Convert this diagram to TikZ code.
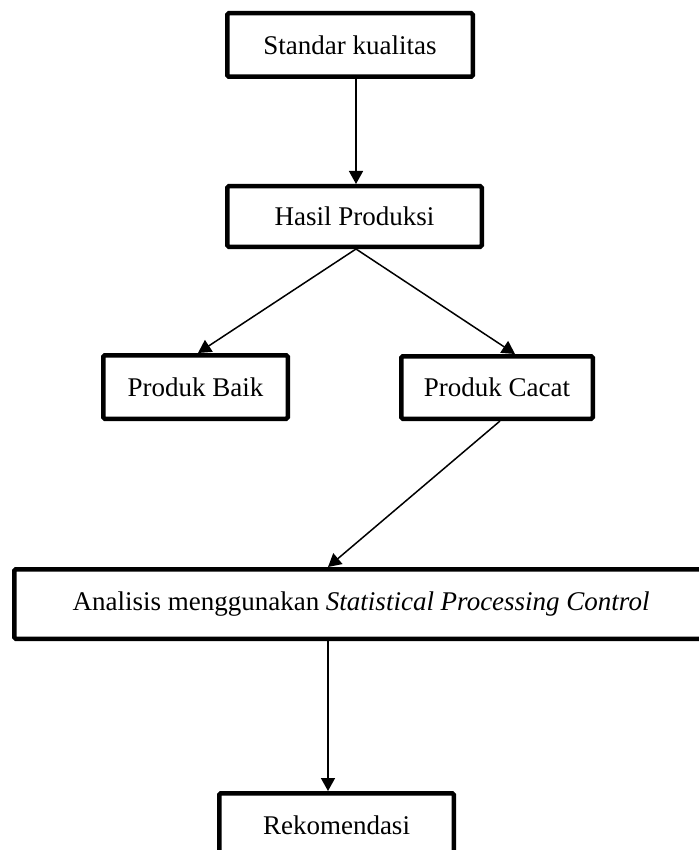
\documentclass[tikz,border=0pt]{standalone}
\usepackage{fontspec}
\setmainfont{Liberation Serif}
\usetikzlibrary{arrows.meta}
\begin{document}
\begin{tikzpicture}[x=1pt,y=-1pt,
  box/.style={draw=black,line width=4.5pt,rounded corners=1.5pt,inner sep=0pt,
    font=\fontsize{27}{32}\selectfont,align=center},
  conn/.style={line width=1.5pt,-{Triangle[length=13pt,width=14pt]}}]
\useasboundingbox (0,0) rectangle (698,850);
\node[box,minimum width=245.5pt,minimum height=63.5pt] (b1) at (350,45) {Standar kualitas};
\node[box,minimum width=254.5pt,minimum height=60.5pt] (b2) at (354.5,216.5) {Hasil Produksi};
\node[box,minimum width=184.5pt,minimum height=63.5pt] (b3) at (195.5,387) {Produk Baik};
\node[box,minimum width=191.5pt,minimum height=62.5pt] (b4) at (497,387.5) {Produk Cacat};
\node[box,minimum width=693.5pt,minimum height=69.5pt] (b5) at (361,604) {Analisis menggunakan \textit{Statistical Processing Control}};
\node[box,minimum width=234.5pt,minimum height=63.5pt] (b6) at (336.5,825) {Rekomendasi};
\draw[conn] ([xshift=6pt]b1.south) -- ([xshift=1.5pt]b2.north);
\draw[conn] ([xshift=1.5pt]b2.south) -- ([xshift=2.5pt]b3.north);
\draw[conn] ([xshift=1.5pt]b2.south) -- ([xshift=18pt]b4.north);
\draw[conn] ([xshift=3pt]b4.south) -- ([xshift=-33pt]b5.north);
\draw[conn] ([xshift=-33pt]b5.south) -- ([xshift=-8.5pt]b6.north);
\end{tikzpicture}
\end{document}
